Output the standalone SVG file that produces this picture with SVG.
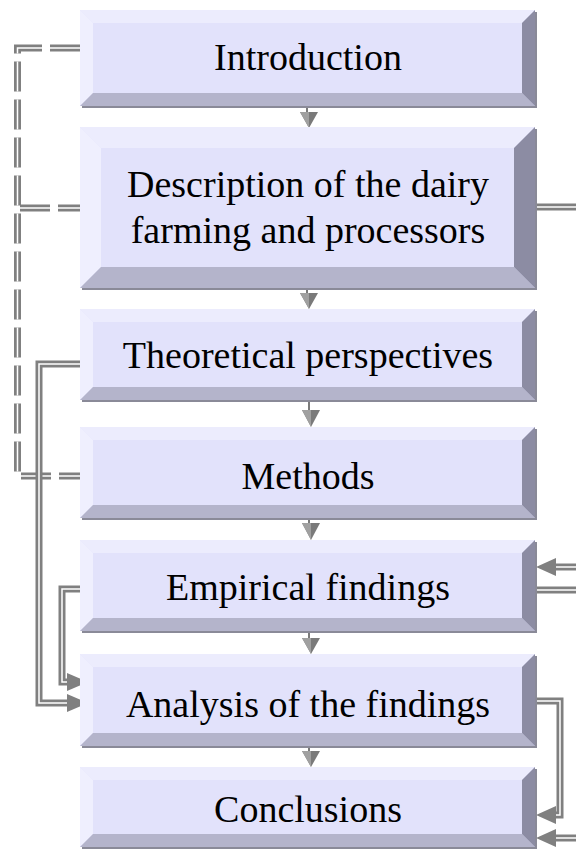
<svg xmlns="http://www.w3.org/2000/svg" width="576" height="857" viewBox="0 0 576 857">
<style>
.sh{fill:#8a8a98}
.fc{fill:#e2e2fb}
.tp{fill:#ececfd}
.lf{fill:#efeffe}
.bt{fill:#b4b4cb}
.rt{fill:#8c8ca3}
.lbl{font-family:"Liberation Serif","Times New Roman",serif;font-size:38px;fill:#000;text-anchor:middle}
.dl{fill:none;stroke:#808080;stroke-width:7;stroke-linejoin:miter}
.dlw{fill:none;stroke:#ffffff;stroke-width:1.5;stroke-linejoin:miter}
.dash{stroke-dasharray:30 8}
.ah{fill:#808080}
.ca{fill:#7a7a7a}
.cal{fill:#a0a0a0}
.cs{stroke:#7a7a7a;stroke-width:2}
</style>
<g id="connectors">
  <path class="dl dash" d="M80,48 H17.5 V476 H80"/>
  <path class="dlw dash" d="M80,48 H17.5 V476 H80"/>
  <path class="dl dash" d="M88,208 H17.5"/>
  <path class="dlw dash" d="M88,208 H17.5"/>
  <path class="dl" d="M84,364 H39 V703 H68"/>
  <path class="dlw" d="M84,364 H39 V703 H68"/>
  <polygon class="ah" points="67,694 67,712 88,703"/>
  <path class="dl" d="M86,589 H62 V682 H68"/>
  <path class="dlw" d="M86,589 H62 V682 H68"/>
  <polygon class="ah" points="67,673 67,691 88,682"/>
  <path class="dl" d="M537,207 H576"/>
  <path class="dlw" d="M537,207 H576"/>
  <path class="dl" d="M576,567 H554"/>
  <path class="dlw" d="M576,567 H554"/>
  <polygon class="ah" points="556,558 556,576 536,567"/>
  <path class="dl" d="M537,590 H576"/>
  <path class="dlw" d="M537,590 H576"/>
  <path class="dl" d="M537,701 H560 V815 H554"/>
  <path class="dlw" d="M537,701 H560 V815 H554"/>
  <polygon class="ah" points="556,806 556,824 536,815"/>
  <path class="dl" d="M576,838 H554"/>
  <path class="dlw" d="M576,838 H554"/>
  <polygon class="ah" points="556,829 556,847 536,838"/>
  <g id="flow">
    <line class="cs" x1="307" y1="106" x2="307" y2="113"/>
    <polygon class="ca" points="300,112 318,112 309,128"/><polygon class="cal" points="300,112 309,112 309,128"/>
    <line class="cs" x1="307" y1="289" x2="307" y2="294"/>
    <polygon class="ca" points="300,293 318,293 309,309"/><polygon class="cal" points="300,293 309,293 309,309"/>
    <line class="cs" x1="309" y1="401" x2="309" y2="411"/>
    <polygon class="ca" points="302,410 320,410 311,427"/><polygon class="cal" points="302,410 311,410 311,427"/>
    <line class="cs" x1="309" y1="519" x2="309" y2="524"/>
    <polygon class="ca" points="302,523 320,523 311,540"/><polygon class="cal" points="302,523 311,523 311,540"/>
    <line class="cs" x1="309" y1="633" x2="309" y2="639"/>
    <polygon class="ca" points="302,638 320,638 311,654"/><polygon class="cal" points="302,638 311,638 311,654"/>
    <line class="cs" x1="309" y1="748" x2="309" y2="752"/>
    <polygon class="ca" points="302,751 320,751 311,767"/><polygon class="cal" points="302,751 311,751 311,767"/>
  </g>
</g>
<g id="n1">
  <rect class="sh" x="82" y="12" width="455" height="96"/>
  <rect class="fc" x="80" y="10" width="455" height="96"/>
  <polygon class="tp" points="80,10 535,10 522,23 93,23"/>
  <polygon class="lf" points="80,10 93,23 93,93 80,106"/>
  <polygon class="bt" points="80,106 93,93 522,93 535,106"/>
  <polygon class="rt" points="535,10 535,106 522,93 522,23"/>
  <text class="lbl" x="308" y="70">Introduction</text>
</g>
<g id="n2">
  <rect class="sh" x="82" y="129" width="455" height="161"/>
  <rect class="fc" x="80" y="127" width="455" height="161"/>
  <polygon class="tp" points="80,127 535,127 514,148 101,148"/>
  <polygon class="lf" points="80,127 101,148 101,267 80,288"/>
  <polygon class="bt" points="80,288 101,267 514,267 535,288"/>
  <polygon class="rt" points="535,127 535,288 514,267 514,148"/>
  <text class="lbl" x="308" y="197">Description of the dairy</text>
  <text class="lbl" x="308" y="243">farming and processors</text>
</g>
<g id="n3">
  <rect class="sh" x="82" y="311" width="455" height="91"/>
  <rect class="fc" x="80" y="309" width="455" height="91"/>
  <polygon class="tp" points="80,309 535,309 522,322 93,322"/>
  <polygon class="lf" points="80,309 93,322 93,387 80,400"/>
  <polygon class="bt" points="80,400 93,387 522,387 535,400"/>
  <polygon class="rt" points="535,309 535,400 522,387 522,322"/>
  <text class="lbl" x="308" y="368">Theoretical perspectives</text>
</g>
<g id="n4">
  <rect class="sh" x="82" y="429" width="455" height="91"/>
  <rect class="fc" x="80" y="427" width="455" height="91"/>
  <polygon class="tp" points="80,427 535,427 522,440 93,440"/>
  <polygon class="lf" points="80,427 93,440 93,505 80,518"/>
  <polygon class="bt" points="80,518 93,505 522,505 535,518"/>
  <polygon class="rt" points="535,427 535,518 522,505 522,440"/>
  <text class="lbl" x="308" y="489">Methods</text>
</g>
<g id="n5">
  <rect class="sh" x="82" y="542" width="455" height="91"/>
  <rect class="fc" x="80" y="540" width="455" height="91"/>
  <polygon class="tp" points="80,540 535,540 522,553 93,553"/>
  <polygon class="lf" points="80,540 93,553 93,618 80,631"/>
  <polygon class="bt" points="80,631 93,618 522,618 535,631"/>
  <polygon class="rt" points="535,540 535,631 522,618 522,553"/>
  <text class="lbl" x="308" y="600">Empirical findings</text>
</g>
<g id="n6">
  <rect class="sh" x="82" y="656" width="455" height="92"/>
  <rect class="fc" x="80" y="654" width="455" height="92"/>
  <polygon class="tp" points="80,654 535,654 522,667 93,667"/>
  <polygon class="lf" points="80,654 93,667 93,733 80,746"/>
  <polygon class="bt" points="80,746 93,733 522,733 535,746"/>
  <polygon class="rt" points="535,654 535,746 522,733 522,667"/>
  <text class="lbl" x="308" y="717">Analysis of the findings</text>
</g>
<g id="n7">
  <rect class="sh" x="82" y="769" width="455" height="80"/>
  <rect class="fc" x="80" y="767" width="455" height="80"/>
  <polygon class="tp" points="80,767 535,767 522,780 93,780"/>
  <polygon class="lf" points="80,767 93,780 93,834 80,847"/>
  <polygon class="bt" points="80,847 93,834 522,834 535,847"/>
  <polygon class="rt" points="535,767 535,847 522,834 522,780"/>
  <text class="lbl" x="308" y="822">Conclusions</text>
</g>
</svg>
